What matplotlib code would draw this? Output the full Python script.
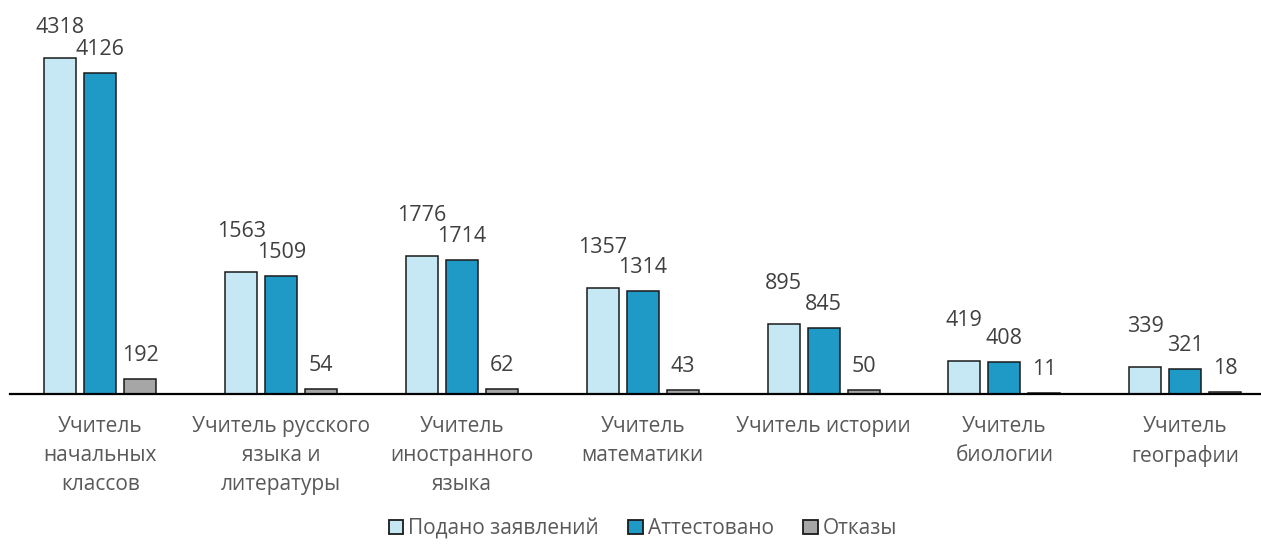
import matplotlib
matplotlib.use("Agg")
import matplotlib.pyplot as plt
from matplotlib.patches import Patch
import numpy as np

# data
categories = [
    "Учитель\nначальных\nклассов",
    "Учитель русского\nязыка и\nлитературы",
    "Учитель\nиностранного\nязыка",
    "Учитель\nматематики",
    "Учитель истории",
    "Учитель\nбиологии",
    "Учитель\nгеографии",
]
series_names = ["Подано заявлений", "Аттестовано", "Отказы"]
submitted = [4318, 1563, 1776, 1357, 895, 419, 339]
certified = [4126, 1509, 1714, 1314, 845, 408, 321]
refused = [192, 54, 62, 43, 50, 11, 18]

colors = ["#C5E8F4", "#1F9AC6", "#A6A6A6"]
label_offsets = [25, 13, 13]  # points above bar top

plt.rcParams["font.family"] = ["Open Sans", "DejaVu Sans"]

W, H = 1261, 544
fig = plt.figure(figsize=(W / 100, H / 100), dpi=100)
# plot area: left edge at x=10px, baseline at y=393.5px, one category = 180.8px
cat_px = 180.8
px_per_unit = 0.0777
ax = fig.add_axes([10 / W, (H - 393.5) / H, 7 * cat_px / W, 393.5 / H])

x = np.arange(len(categories))
bar_w = 32 / cat_px
step = 40 / cat_px
ymax = 393.5 / px_per_unit
label_cap = ymax - 33 / px_per_unit  # labels are kept inside the chart area

for i, (vals, name) in enumerate(zip([submitted, certified, refused], series_names)):
    pos = x + (i - 1) * step
    ax.bar(pos, vals, width=bar_w, color=colors[i], edgecolor="#1a1a1a", linewidth=1.1, label=name, zorder=2)
    for px_, v in zip(pos, vals):
        base = v + label_offsets[i] * 100 / 72 / px_per_unit
        base = min(base, label_cap)
        ax.text(px_, base, str(v), ha="center", va="baseline", fontsize=15.5, color="#404040")

ax.set_xlim(-0.5, len(categories) - 0.5)
ax.set_ylim(0, ymax)
for s in ["top", "right", "left"]:
    ax.spines[s].set_visible(False)
ax.spines["bottom"].set_linewidth(1.6)
ax.spines["bottom"].set_color("black")
ax.spines["bottom"].set_zorder(3)
ax.set_yticks([])
ax.set_xticks(x)
ax.set_xticklabels(categories, fontsize=15, color="#595959", linespacing=1.5)
ax.tick_params(axis="x", length=0, pad=16)

handles = [Patch(facecolor=c, edgecolor="#1a1a1a", linewidth=1.3) for c in colors]
fig.legend(handles, series_names, loc="center", bbox_to_anchor=(0.51, 0.028), ncol=3, frameon=False,
           fontsize=15, labelcolor="#595959", handlelength=0.7, handleheight=0.7, handletextpad=0.25,
           columnspacing=1.4, borderpad=0.1)

fig.savefig("out.png", dpi=100)
